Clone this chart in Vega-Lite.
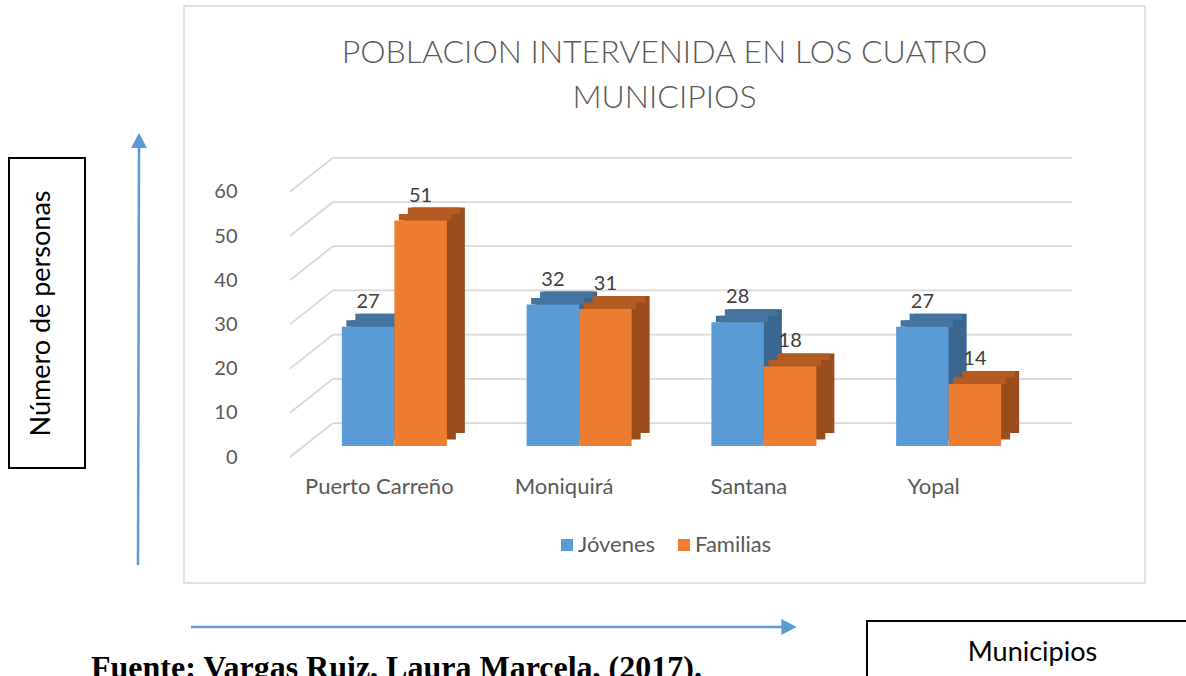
{
  "$schema": "https://vega.github.io/schema/vega-lite/v6.json",
  "width": 961,
  "height": 577,
  "autosize": {"type": "none"},
  "padding": {"left": 184, "top": 6, "right": 41, "bottom": 93},
  "background": "white",
  "config": {
    "view": {"stroke": "#d9d9d9", "strokeWidth": 1.5},
    "font": "Lato"
  },
  "title": {
    "text": ["POBLACION INTERVENIDA EN LOS CUATRO", "MUNICIPIOS"],
    "anchor": "middle",
    "frame": "group",
    "offset": -109,
    "baseline": "top",
    "font": "Lato",
    "fontSize": 32,
    "fontWeight": 300,
    "color": "#595959",
    "lineHeight": 45
  },
  "datasets": {
    "d": [
      {"municipio": "Puerto Carreño", "serie": "Jóvenes", "valor": 27},
      {"municipio": "Puerto Carreño", "serie": "Familias", "valor": 51},
      {"municipio": "Moniquirá", "serie": "Jóvenes", "valor": 32},
      {"municipio": "Moniquirá", "serie": "Familias", "valor": 31},
      {"municipio": "Santana", "serie": "Jóvenes", "valor": 28},
      {"municipio": "Santana", "serie": "Familias", "valor": 18},
      {"municipio": "Yopal", "serie": "Jóvenes", "valor": 27},
      {"municipio": "Yopal", "serie": "Familias", "valor": 14}
    ],
    "g": [{"v": 0}, {"v": 10}, {"v": 20}, {"v": 30}, {"v": 40}, {"v": 50}, {"v": 60}]
  },
  "data": {"name": "d"},
  "layer": [
    {
      "data": {"name": "g"},
      "mark": {"type": "rule", "color": "#d9d9d9", "strokeWidth": 1.75, "xOffset": -61.4, "x2Offset": 123.3, "yOffset": -23},
      "encoding": {
        "x": {"datum": "Puerto Carreño", "type": "nominal"},
        "x2": {"datum": "Yopal"},
        "y": {"field": "v", "type": "quantitative"}
      }
    },
    {
      "data": {"name": "g"},
      "mark": {"type": "rule", "color": "#d9d9d9", "strokeWidth": 1.75, "xOffset": -104.4, "x2Offset": -61.4, "yOffset": 11, "y2Offset": -23},
      "encoding": {
        "x": {"datum": "Puerto Carreño", "type": "nominal"},
        "x2": {"datum": "Puerto Carreño"},
        "y": {"field": "v", "type": "quantitative"},
        "y2": {"field": "v"}
      }
    },
    {
      "transform": [{"filter": "datum.serie === 'Jóvenes'"}],
      "mark": {"type": "bar", "color": "#3b6690", "width": {"band": 0.5}, "xOffset": -8.25, "yOffset": -13, "y2Offset": -13},
      "encoding": {
        "x": {"field": "municipio", "type": "nominal"},
        "y": {"field": "valor", "type": "quantitative"}
      }
    },
    {
      "transform": [{"filter": "datum.serie === 'Jóvenes'"}],
      "mark": {"type": "bar", "color": "#3b6690", "width": {"band": 0.5}, "xOffset": -17.25, "yOffset": -6.5, "y2Offset": -6.5},
      "encoding": {
        "x": {"field": "municipio", "type": "nominal"},
        "y": {"field": "valor", "type": "quantitative"}
      }
    },
    {
      "transform": [{"filter": "datum.serie === 'Jóvenes'"}],
      "mark": {"type": "bar", "color": "#4374a0", "width": {"band": 0.5}, "xOffset": -21.75, "yOffset": -6.5, "y2Offset": 0},
      "encoding": {
        "x": {"field": "municipio", "type": "nominal"},
        "y": {"field": "valor", "type": "quantitative"},
        "y2": {"field": "valor"}
      }
    },
    {
      "transform": [{"filter": "datum.serie === 'Jóvenes'"}],
      "mark": {"type": "bar", "color": "#4374a0", "width": {"band": 0.5}, "xOffset": -12.75, "yOffset": -13, "y2Offset": -6.5},
      "encoding": {
        "x": {"field": "municipio", "type": "nominal"},
        "y": {"field": "valor", "type": "quantitative"},
        "y2": {"field": "valor"}
      }
    },
    {
      "transform": [{"filter": "datum.serie === 'Jóvenes'"}],
      "mark": {"type": "bar", "width": {"band": 0.5}, "xOffset": -26.25},
      "encoding": {
        "x": {
          "field": "municipio", "type": "nominal",
          "scale": {"domain": ["Puerto Carreño", "Moniquirá", "Santana", "Yopal"], "range": [118, 857], "paddingInner": 0.4317, "paddingOuter": 0.2158},
          "axis": {
            "title": "Municipios",
            "offset": -137,
            "domain": false,
            "ticks": false,
            "grid": false,
            "labelAngle": 0,
            "labelAlign": "center",
            "labelPadding": 30,
            "labelBaseline": "top",
            "labelOffset": -15,
            "labelFont": "Lato",
            "labelFontSize": 22,
            "labelColor": "#595959",
            "titleFont": "Lato",
            "titleFontSize": 27,
            "titleFontWeight": "normal",
            "titleColor": "#000000",
            "titleX": 848,
            "titleY": 206,
            "titleAlign": "center",
            "titleBaseline": "middle",
            "titleAnchor": null
          }
        },
        "y": {
          "field": "valor", "type": "quantitative",
          "scale": {"domain": [0, 60], "range": [440, 174.8], "nice": false, "zero": true},
          "axis": {
            "title": "Número de personas",
            "values": [0, 10, 20, 30, 40, 50, 60],
            "offset": -53,
            "domain": false,
            "ticks": false,
            "grid": false,
            "labelPadding": 0,
            "labelOffset": 11,
            "labelFont": "Lato",
            "labelFontSize": 20,
            "labelColor": "#595959",
            "titleFont": "Lato",
            "titleFontSize": 27,
            "titleFontWeight": "normal",
            "titleColor": "#000000",
            "titleAngle": -90,
            "titleX": -196,
            "titleY": 307,
            "titleAlign": "center",
            "titleBaseline": "middle",
            "titleAnchor": null
          }
        },
        "color": {
          "field": "serie", "type": "nominal",
          "scale": {"domain": ["Jóvenes", "Familias"], "range": ["#5b9bd5", "#ed7d31"]},
          "legend": {
            "orient": "none", "legendX": 372, "legendY": 528, "direction": "horizontal", "title": null,
            "symbolType": "square", "symbolSize": 144, "symbolStrokeWidth": 0,
            "labelFont": "Lato", "labelFontSize": 22, "labelColor": "#595959", "labelOffset": 0, "columnPadding": 17
          }
        }
      }
    },
    {
      "transform": [{"filter": "datum.serie === 'Familias'"}],
      "mark": {"type": "bar", "color": "#9a4e1d", "width": {"band": 0.5}, "xOffset": 44.25, "yOffset": -13, "y2Offset": -13},
      "encoding": {
        "x": {"field": "municipio", "type": "nominal"},
        "y": {"field": "valor", "type": "quantitative"}
      }
    },
    {
      "transform": [{"filter": "datum.serie === 'Familias'"}],
      "mark": {"type": "bar", "color": "#9a4e1d", "width": {"band": 0.5}, "xOffset": 35.25, "yOffset": -6.5, "y2Offset": -6.5},
      "encoding": {
        "x": {"field": "municipio", "type": "nominal"},
        "y": {"field": "valor", "type": "quantitative"}
      }
    },
    {
      "transform": [{"filter": "datum.serie === 'Familias'"}],
      "mark": {"type": "bar", "color": "#b45b21", "width": {"band": 0.5}, "xOffset": 30.75, "yOffset": -6.5, "y2Offset": 0},
      "encoding": {
        "x": {"field": "municipio", "type": "nominal"},
        "y": {"field": "valor", "type": "quantitative"},
        "y2": {"field": "valor"}
      }
    },
    {
      "transform": [{"filter": "datum.serie === 'Familias'"}],
      "mark": {"type": "bar", "color": "#b45b21", "width": {"band": 0.5}, "xOffset": 39.75, "yOffset": -13, "y2Offset": -6.5},
      "encoding": {
        "x": {"field": "municipio", "type": "nominal"},
        "y": {"field": "valor", "type": "quantitative"},
        "y2": {"field": "valor"}
      }
    },
    {
      "transform": [{"filter": "datum.serie === 'Familias'"}],
      "mark": {"type": "bar", "width": {"band": 0.5}, "xOffset": 26.25},
      "encoding": {
        "x": {"field": "municipio", "type": "nominal"},
        "y": {"field": "valor", "type": "quantitative"},
        "color": {"field": "serie", "type": "nominal"}
      }
    },
    {
      "transform": [{"filter": "datum.serie === 'Jóvenes'"}],
      "mark": {"type": "text", "xOffset": -26.25, "dy": -25, "baseline": "middle", "font": "Lato", "fontSize": 20, "color": "#404040"},
      "encoding": {
        "x": {"field": "municipio", "type": "nominal"},
        "y": {"field": "valor", "type": "quantitative"},
        "text": {"field": "valor", "type": "quantitative"}
      }
    },
    {
      "transform": [{"filter": "datum.serie === 'Familias'"}],
      "mark": {"type": "text", "xOffset": 26.25, "dy": -25, "baseline": "middle", "font": "Lato", "fontSize": 20, "color": "#404040"},
      "encoding": {
        "x": {"field": "municipio", "type": "nominal"},
        "y": {"field": "valor", "type": "quantitative"},
        "text": {"field": "valor", "type": "quantitative"}
      }
    },
    {
      "data": {"values": [{}]},
      "mark": {"type": "rect", "fill": "white", "fillOpacity": 0, "stroke": "#000000", "strokeWidth": 2},
      "encoding": {"x": {"value": -175}, "x2": {"value": -99}, "y": {"value": 152}, "y2": {"value": 462}}
    },
    {
      "data": {"values": [{}]},
      "mark": {"type": "rect", "fill": "white", "fillOpacity": 0, "stroke": "#000000", "strokeWidth": 2},
      "encoding": {"x": {"value": 683}, "x2": {"value": 1030}, "y": {"value": 615}, "y2": {"value": 700}}
    },
    {
      "data": {"values": [{}]},
      "mark": {"type": "rule", "color": "#5b9bd5", "strokeWidth": 2.5},
      "encoding": {"x": {"value": -46}, "x2": {"value": -45}, "y": {"value": 559}, "y2": {"value": 141}}
    },
    {
      "data": {"values": [{}]},
      "mark": {"type": "point", "shape": "M0,-0.95L1,0.95L-1,0.95Z", "size": 256, "filled": true, "opacity": 1, "color": "#5b9bd5"},
      "encoding": {"x": {"value": -45}, "y": {"value": 134.5}}
    },
    {
      "data": {"values": [{}]},
      "mark": {"type": "rule", "color": "#5b9bd5", "strokeWidth": 2.5},
      "encoding": {"x": {"value": 7}, "x2": {"value": 599}, "y": {"value": 621}}
    },
    {
      "data": {"values": [{}]},
      "mark": {"type": "point", "shape": "M0.95,0L-0.95,-1L-0.95,1Z", "size": 256, "filled": true, "opacity": 1, "color": "#5b9bd5"},
      "encoding": {"x": {"value": 605}, "y": {"value": 621}}
    },
    {
      "data": {"values": [{"t": "Fuente: Vargas Ruiz, Laura Marcela, (2017)."}]},
      "mark": {"type": "text", "align": "left", "baseline": "alphabetic", "font": "Liberation Serif", "fontWeight": "bold", "fontSize": 32, "color": "#000000"},
      "encoding": {"x": {"value": -93}, "y": {"value": 672}, "text": {"field": "t", "type": "nominal"}}
    }
  ]
}
